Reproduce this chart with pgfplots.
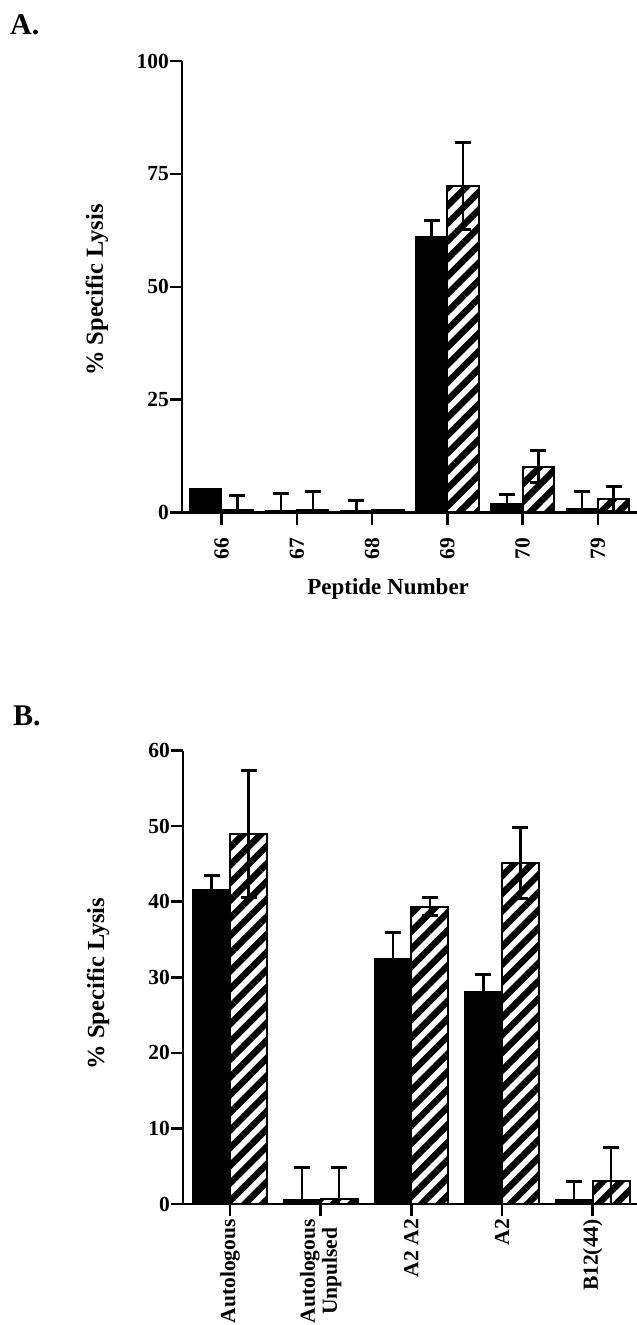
\documentclass[border=0pt]{standalone}
\usepackage{fontspec}
\setmainfont{Liberation Serif}
\usepackage{pgfplots}
\pgfplotsset{compat=1.18}
\usetikzlibrary{patterns.meta}

\newcommand{\tk}{\fontsize{21.5}{22}\selectfont\bfseries}
\newcommand{\lab}{\fontsize{24.5}{26}\selectfont\bfseries}

\pgfplotstableread{
x y e
0 5.2 0
1 0.5 3.8
2 0.5 2.1
3 61.2 3.4
4 2.0 2.1
5 0.9 3.7
}\Ablack
\pgfplotstableread{
x y e
0 0.5 3.2
1 0.5 4.1
2 0.5 0
3 72.3 9.7
4 10.2 3.6
5 3.0 2.8
}\Ahatch
\pgfplotstableread{
x y e
0 41.55 1.9
1 0.6 4.2
2 32.5 3.45
3 28.1 2.2
4 0.6 2.4
}\Bblack
\pgfplotstableread{
x y e
0 48.95 8.35
1 0.6 4.2
2 39.35 1.2
3 45.1 4.7
4 3.0 4.5
}\Bhatch

\pgfplotsset{
  lysis/.style={
    scale only axis,
    axis lines=left,
    axis line style={-, line width=2.6pt},
    axis on top,
    ybar=0pt,
    tick align=outside,
    major tick length=12pt,
    every tick/.style={line width=2.6pt, black},
    tick label style={font=\tk},
    /pgf/number format/assume math mode=true,
    yticklabel style={anchor=east, inner sep=0pt, xshift=-1pt},
    xticklabel style={rotate=90, anchor=east, inner sep=0pt, align=center},
    every axis y label/.style={rotate=90, anchor=center, font=\lab},
    error bars/error bar style={line width=2.4pt, black},
    error bars/error mark options={rotate=90, mark size=8pt, line width=3pt, black},
  },
  blk/.style={fill=black, draw=black, line width=1.5pt},
  hat/.style={draw=black, line width=2pt, pattern={Lines[angle=45,distance=12.5pt,line width=6.5pt]}, pattern color=black},
}

\begin{document}
\begin{tikzpicture}
\path[use as bounding box] (0,0) rectangle (637pt,-1325pt);

\node[font=\fontsize{30}{32}\selectfont\bfseries, anchor=base west, inner sep=0pt] at (10pt,-34pt) {A.};
\node[font=\fontsize{30}{32}\selectfont\bfseries, anchor=base west, inner sep=0pt] at (13pt,-725.7pt) {B.};

\begin{axis}[lysis,
  at={(182pt,-512.7pt)}, anchor=south west,
  width=455pt, height=451.7pt,
  xmin=-0.528, xmax=5.52, ymin=0, ymax=100,
  bar width=31.5pt,
  ytick={0,25,50,75,100},
  xtick={0,1,2,3,4,5},
  xticklabels={66,67,68,69,70,79},
  xticklabel style={xshift=-13pt},
  ylabel={\% Specific Lysis},
  every axis y label/.append style={at={(axis description cs:-0.187,0.493)}},
  xlabel={Peptide Number},
  every axis x label/.style={at={(axis description cs:0.453,-0.168)}, anchor=center, font=\fontsize{23}{25}\selectfont\bfseries},
]
\addplot[blk, error bars/.cd, y dir=both, y explicit] table[x=x, y=y, y error=e] {\Ablack};
\addplot[hat, error bars/.cd, y dir=both, y explicit] table[x=x, y=y, y error=e] {\Ahatch};
\end{axis}

\begin{axis}[lysis,
  at={(183pt,-1204pt)}, anchor=south west,
  width=454pt, height=453.5pt,
  xmin=-0.519, xmax=4.49, ymin=0, ymax=60,
  bar width=37pt,
  ytick={0,10,20,30,40,50,60},
  xtick={0,1,2,3,4},
  xticklabels={Autologous,{Autologous\\Unpulsed},A2 A2,A2,B12(44)},
  xticklabel style={xshift=-3pt},
  ylabel={\% Specific Lysis},
  every axis y label/.append style={at={(axis description cs:-0.187,0.486)}},
]
\addplot[blk, error bars/.cd, y dir=both, y explicit] table[x=x, y=y, y error=e] {\Bblack};
\addplot[hat, error bars/.cd, y dir=both, y explicit] table[x=x, y=y, y error=e] {\Bhatch};
\end{axis}
\end{tikzpicture}
\end{document}
